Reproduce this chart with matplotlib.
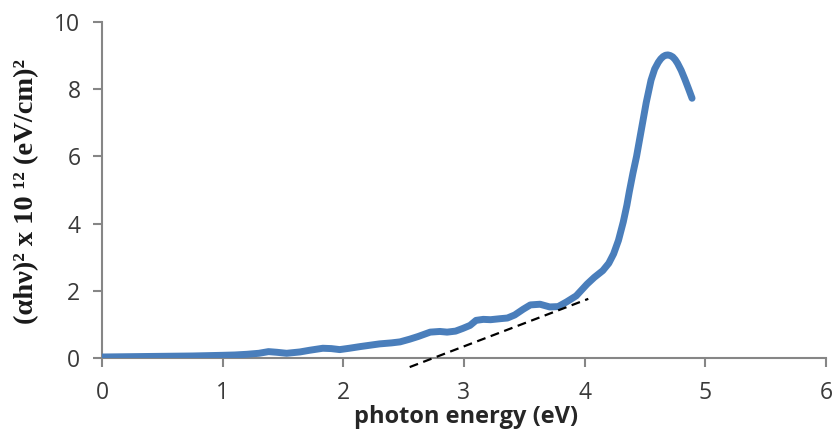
import matplotlib
matplotlib.use("Agg")
import matplotlib.pyplot as plt

# Data
energy = [0, 0.25, 0.5, 0.75, 1.0, 1.1, 1.2, 1.3, 1.38, 1.45, 1.53, 1.64, 1.72, 1.83, 1.9,
          1.97, 2.05, 2.14, 2.22, 2.3, 2.4, 2.47, 2.55, 2.62, 2.72, 2.8, 2.86, 2.93, 2.99,
          3.05, 3.1, 3.16, 3.22, 3.3, 3.36, 3.42, 3.49, 3.55, 3.63, 3.71, 3.78, 3.85, 3.93,
          4.02, 4.08, 4.15, 4.2, 4.24, 4.28, 4.32, 4.35, 4.37, 4.4, 4.43, 4.47, 4.51, 4.55,
          4.58, 4.61, 4.63, 4.65, 4.67, 4.69, 4.71, 4.73, 4.75, 4.77, 4.8, 4.83, 4.86, 4.89]
alpha_hv_sq = [0.03, 0.04, 0.05, 0.06, 0.08, 0.09, 0.11, 0.14, 0.19, 0.17, 0.14, 0.18, 0.23,
               0.29, 0.28, 0.25, 0.29, 0.34, 0.38, 0.42, 0.45, 0.48, 0.56, 0.64, 0.77, 0.79,
               0.77, 0.80, 0.88, 0.97, 1.12, 1.15, 1.14, 1.17, 1.19, 1.28, 1.45, 1.58, 1.60,
               1.52, 1.53, 1.67, 1.85, 2.2, 2.4, 2.6, 2.82, 3.1, 3.5, 4.05, 4.55, 4.95, 5.5,
               6.0, 6.8, 7.6, 8.27, 8.6, 8.8, 8.9, 8.97, 9.01, 9.02, 9.0, 8.96, 8.88, 8.77,
               8.56, 8.3, 8.02, 7.73]
fit_x = [2.55, 4.03]
fit_y = [-0.27, 1.76]

x_ticks = [0, 1, 2, 3, 4, 5, 6]
y_ticks = [0, 2, 4, 6, 8, 10]

fig = plt.figure(figsize=(8.34, 4.30), dpi=100)
ax = fig.add_axes([102/834, 1 - 358/430, (826 - 102)/834, (358 - 22)/430])

ax.plot(energy, alpha_hv_sq, color="#4A7EBB", lw=5, solid_capstyle="round",
        solid_joinstyle="round", zorder=3)
ax.plot(fit_x, fit_y, color="black", lw=1.6, ls=(0, (4, 2.5)), clip_on=False, zorder=4)

ax.set_xlim(0, 6)
ax.set_ylim(0, 10)
ax.set_xticks(x_ticks)
ax.set_yticks(y_ticks)

for s in ["top", "right"]:
    ax.spines[s].set_visible(False)
for s in ["left", "bottom"]:
    ax.spines[s].set_color("#868686")
    ax.spines[s].set_linewidth(1.5)

ax.tick_params(axis="both", direction="out", length=6.5, width=1.5, color="#868686",
               labelcolor="#3a3a3a", labelsize=16.5)
ax.tick_params(axis="x", pad=10)
ax.tick_params(axis="y", pad=9)
for lab in ax.get_xticklabels() + ax.get_yticklabels():
    lab.set_fontfamily(["Liberation Sans Narrow", "Open Sans", "DejaVu Sans"])

fig.text(466/834, 7/430, "photon energy (eV)", ha="center", va="baseline",
         fontsize=17, fontweight="bold", color="#262626",
         family=["Open Sans", "DejaVu Sans"])
fig.text(27/834, 1 - 192/430, "(αhν)² x 10 ¹² (eV/cm)²", rotation=90, ha="center",
         va="center", fontsize=20.5, fontweight="bold", color="#1a1a1a",
         family=["Liberation Serif", "DejaVu Serif"])

fig.savefig("out.png", dpi=100)
